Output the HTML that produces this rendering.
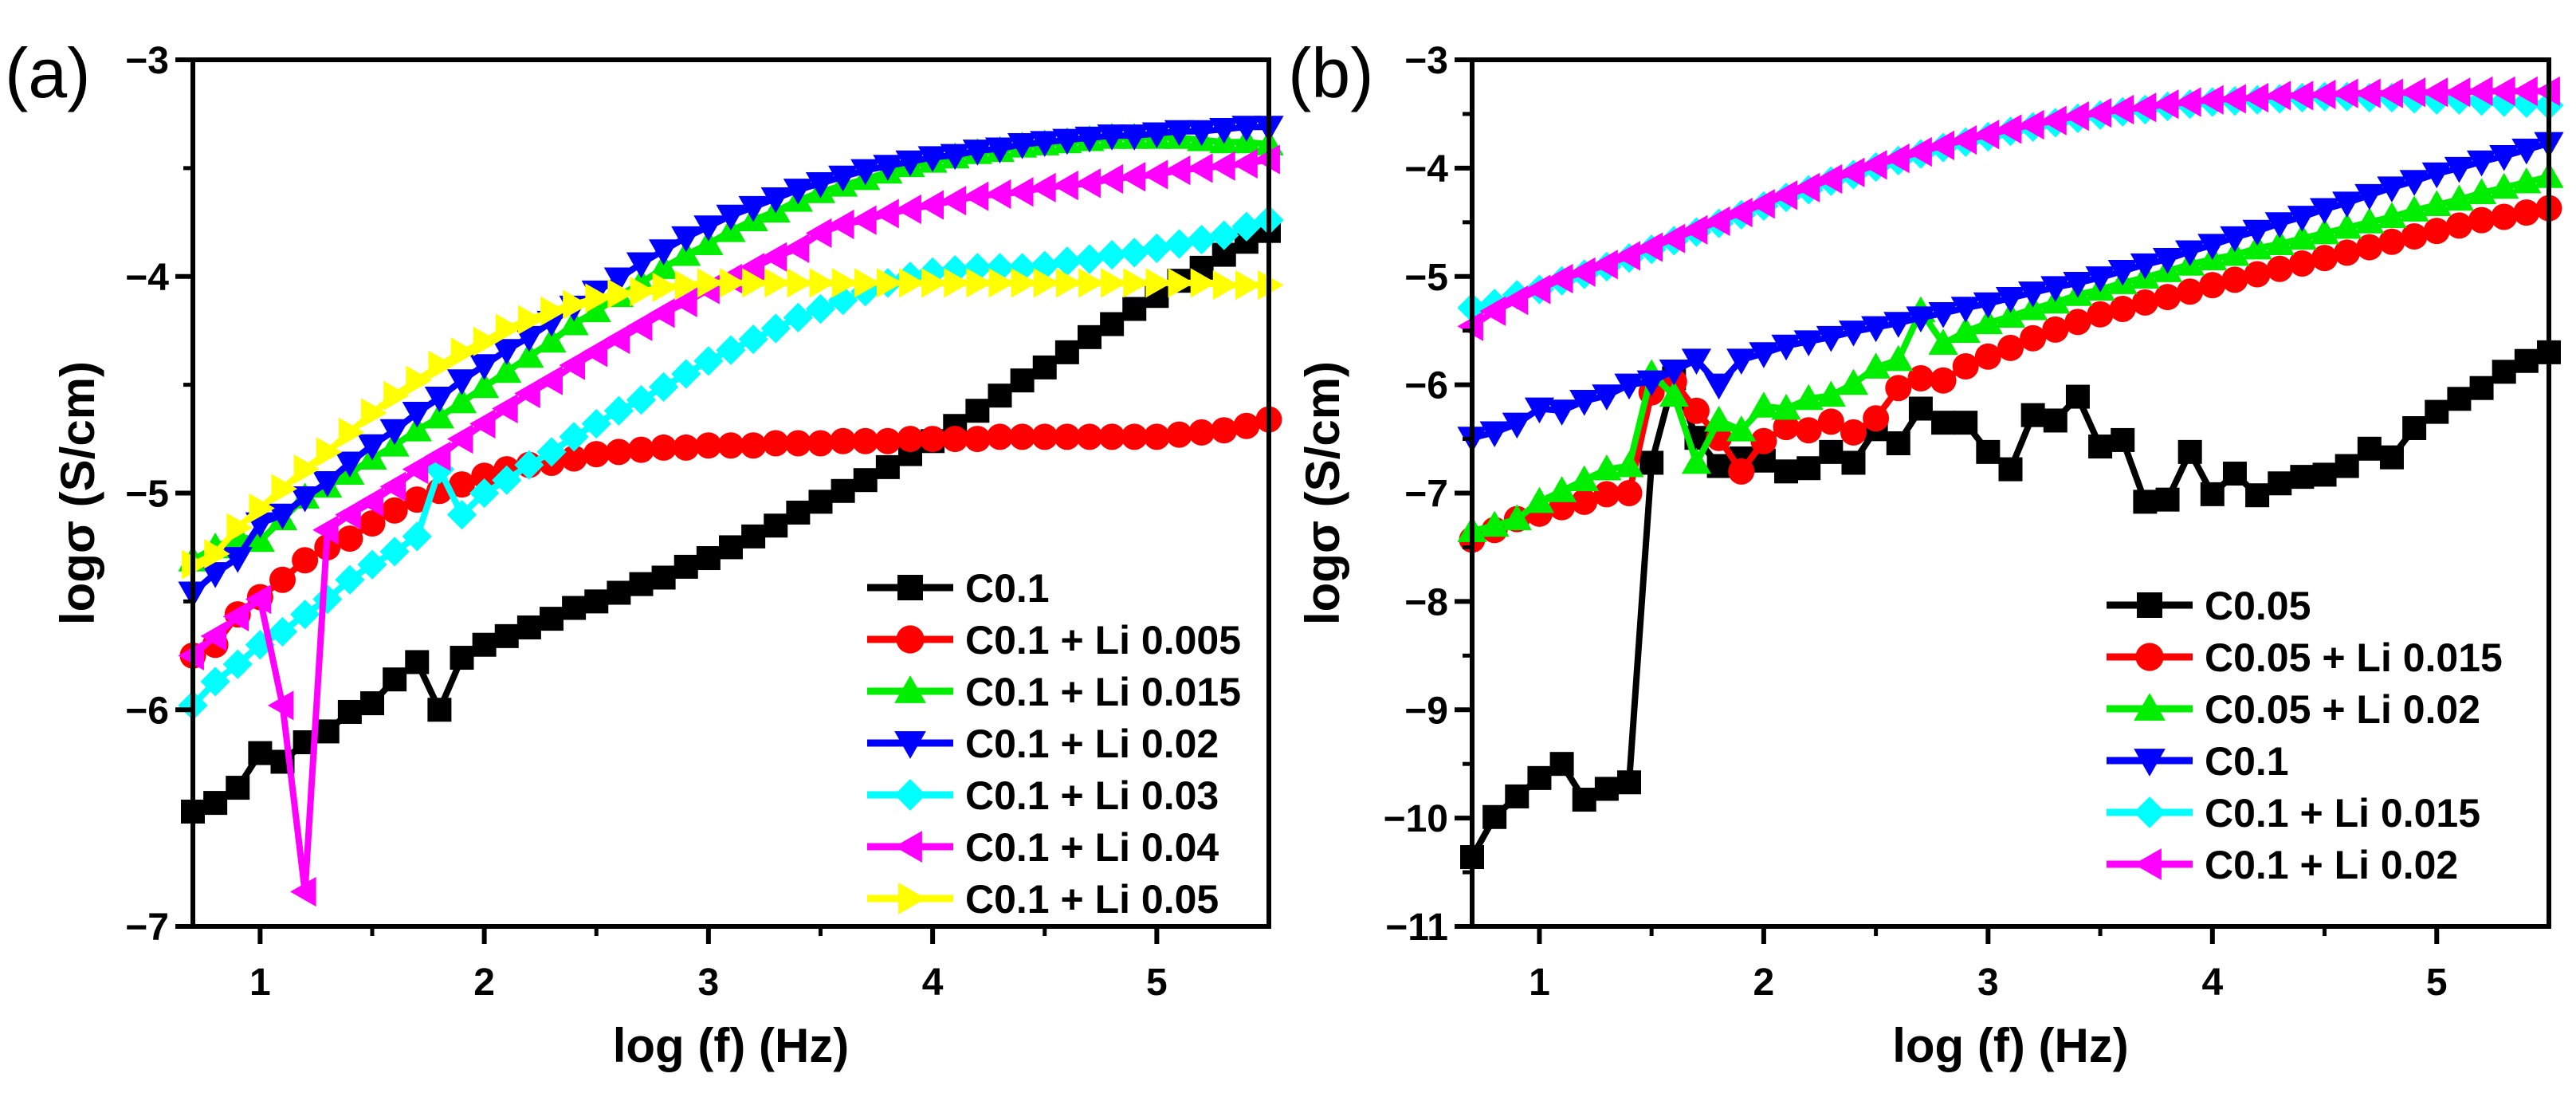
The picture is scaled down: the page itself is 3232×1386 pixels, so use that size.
<!DOCTYPE html>
<html><head><meta charset="utf-8"><style>
html,body{margin:0;padding:0;background:#fff;}
svg{display:block;font-family:"Liberation Sans",Arial,sans-serif;}
</style></head><body>
<svg id="fig" width="3232" height="1386" viewBox="0 0 3232 1386" xmlns="http://www.w3.org/2000/svg"></svg>
<script>
const logF = [0.7,0.8,0.9,1.0,1.1,1.2,1.3,1.4,1.5,1.6,1.7,1.8,1.9,2.0,2.1,2.2,2.3,2.4,2.5,2.6,2.7,2.8,2.9,3.0,3.1,3.2,3.3,3.4,3.5,3.6,3.7,3.8,3.9,4.0,4.1,4.2,4.3,4.4,4.5,4.6,4.7,4.8,4.9,5.0,5.1,5.2,5.3,5.4,5.5];
const xTicks = [1,2,3,4,5];
const yTicksA = [-3,-4,-5,-6,-7];
const yTicksB = [-3,-4,-5,-6,-7,-8,-9,-10,-11];

// panel (a)
const aC01 = [-6.47,-6.43,-6.36,-6.2,-6.24,-6.15,-6.1,-6.01,-5.97,-5.86,-5.78,-6.0,-5.76,-5.7,-5.66,-5.62,-5.58,-5.53,-5.5,-5.46,-5.42,-5.39,-5.34,-5.3,-5.25,-5.2,-5.15,-5.09,-5.04,-4.99,-4.94,-4.88,-4.82,-4.76,-4.69,-4.62,-4.55,-4.48,-4.42,-4.35,-4.28,-4.22,-4.15,-4.09,-4.02,-3.96,-3.9,-3.84,-3.79];
const aLi005 = [-5.75,-5.7,-5.56,-5.48,-5.4,-5.31,-5.25,-5.21,-5.14,-5.08,-5.03,-4.99,-4.96,-4.92,-4.89,-4.87,-4.86,-4.84,-4.82,-4.81,-4.8,-4.79,-4.79,-4.78,-4.78,-4.78,-4.77,-4.77,-4.77,-4.76,-4.76,-4.76,-4.75,-4.75,-4.75,-4.75,-4.74,-4.74,-4.74,-4.74,-4.74,-4.74,-4.74,-4.74,-4.73,-4.72,-4.71,-4.69,-4.66];
const aLi015 = [-5.31,-5.25,-5.2,-5.22,-5.12,-5.02,-4.97,-4.91,-4.84,-4.78,-4.71,-4.65,-4.58,-4.51,-4.44,-4.37,-4.3,-4.22,-4.16,-4.09,-4.03,-3.96,-3.9,-3.85,-3.79,-3.74,-3.7,-3.65,-3.61,-3.58,-3.55,-3.52,-3.49,-3.47,-3.45,-3.43,-3.42,-3.4,-3.39,-3.38,-3.37,-3.36,-3.36,-3.36,-3.36,-3.37,-3.38,-3.38,-3.39];
const aLi02 = [-5.46,-5.37,-5.3,-5.14,-5.1,-5.02,-4.95,-4.86,-4.78,-4.71,-4.63,-4.56,-4.48,-4.41,-4.34,-4.28,-4.21,-4.14,-4.07,-4.01,-3.94,-3.88,-3.82,-3.77,-3.72,-3.68,-3.64,-3.6,-3.57,-3.54,-3.51,-3.49,-3.47,-3.45,-3.44,-3.42,-3.41,-3.39,-3.38,-3.37,-3.36,-3.35,-3.35,-3.34,-3.33,-3.33,-3.32,-3.31,-3.31];
const aLi03 = [-5.98,-5.87,-5.79,-5.7,-5.64,-5.56,-5.49,-5.4,-5.33,-5.27,-5.2,-4.89,-5.1,-5.0,-4.94,-4.87,-4.81,-4.74,-4.68,-4.62,-4.57,-4.51,-4.45,-4.39,-4.34,-4.29,-4.24,-4.19,-4.15,-4.11,-4.07,-4.03,-4.0,-3.98,-3.97,-3.96,-3.96,-3.96,-3.95,-3.93,-3.92,-3.9,-3.89,-3.87,-3.85,-3.83,-3.81,-3.77,-3.74];
const aLi04 = [-5.75,-5.66,-5.57,-5.49,-5.98,-6.84,-5.17,-5.1,-5.04,-4.97,-4.89,-4.83,-4.75,-4.68,-4.61,-4.54,-4.48,-4.41,-4.35,-4.29,-4.23,-4.17,-4.12,-4.06,-4.01,-3.96,-3.91,-3.87,-3.8,-3.76,-3.74,-3.71,-3.69,-3.67,-3.65,-3.63,-3.62,-3.61,-3.59,-3.58,-3.57,-3.55,-3.54,-3.53,-3.51,-3.5,-3.49,-3.48,-3.46];
const aLi05 = [-5.33,-5.28,-5.16,-5.07,-4.98,-4.89,-4.81,-4.72,-4.63,-4.55,-4.48,-4.41,-4.35,-4.3,-4.24,-4.2,-4.16,-4.13,-4.1,-4.08,-4.07,-4.05,-4.04,-4.03,-4.03,-4.03,-4.03,-4.03,-4.03,-4.03,-4.03,-4.03,-4.03,-4.03,-4.03,-4.03,-4.03,-4.03,-4.03,-4.03,-4.03,-4.03,-4.03,-4.03,-4.03,-4.03,-4.04,-4.04,-4.04];

// panel (b)
const bC005 = [-10.36,-9.99,-9.8,-9.63,-9.5,-9.83,-9.73,-9.67,-6.72,-5.94,-6.49,-6.75,-6.68,-6.7,-6.8,-6.77,-6.62,-6.72,-6.41,-6.54,-6.22,-6.35,-6.35,-6.62,-6.78,-6.28,-6.33,-6.11,-6.57,-6.51,-7.08,-7.06,-6.62,-7.01,-6.82,-7.02,-6.91,-6.85,-6.83,-6.75,-6.59,-6.67,-6.4,-6.25,-6.13,-6.03,-5.88,-5.78,-5.7];
const bC005Li015 = [-7.43,-7.34,-7.24,-7.19,-7.13,-7.08,-7.01,-7.0,-6.07,-5.97,-6.24,-6.49,-6.8,-6.52,-6.39,-6.42,-6.34,-6.44,-6.31,-6.03,-5.94,-5.96,-5.83,-5.74,-5.66,-5.57,-5.49,-5.42,-5.35,-5.3,-5.24,-5.19,-5.14,-5.08,-5.03,-4.98,-4.93,-4.88,-4.83,-4.78,-4.73,-4.68,-4.63,-4.58,-4.53,-4.48,-4.45,-4.41,-4.37];
const bC005Li02 = [-7.35,-7.3,-7.24,-7.08,-6.98,-6.88,-6.78,-6.75,-5.9,-6.1,-6.72,-6.33,-6.42,-6.2,-6.22,-6.13,-6.1,-5.99,-5.84,-5.77,-5.32,-5.62,-5.51,-5.43,-5.37,-5.3,-5.24,-5.17,-5.12,-5.06,-5.01,-4.95,-4.89,-4.84,-4.8,-4.74,-4.7,-4.65,-4.6,-4.55,-4.5,-4.45,-4.39,-4.34,-4.29,-4.23,-4.18,-4.13,-4.08];
const bC01 = [-6.49,-6.44,-6.36,-6.22,-6.24,-6.15,-6.1,-6.0,-5.97,-5.87,-5.77,-6.0,-5.77,-5.71,-5.64,-5.6,-5.56,-5.51,-5.47,-5.43,-5.38,-5.34,-5.29,-5.25,-5.2,-5.15,-5.1,-5.06,-5.01,-4.95,-4.89,-4.84,-4.77,-4.71,-4.64,-4.58,-4.51,-4.45,-4.38,-4.32,-4.25,-4.18,-4.12,-4.05,-4.0,-3.94,-3.89,-3.83,-3.77];
const bC01Li015 = [-5.29,-5.25,-5.17,-5.12,-5.04,-4.98,-4.91,-4.83,-4.75,-4.67,-4.59,-4.51,-4.43,-4.35,-4.27,-4.2,-4.12,-4.06,-3.99,-3.93,-3.87,-3.81,-3.76,-3.71,-3.66,-3.62,-3.58,-3.54,-3.51,-3.48,-3.46,-3.43,-3.41,-3.39,-3.38,-3.37,-3.36,-3.35,-3.34,-3.34,-3.35,-3.35,-3.36,-3.37,-3.37,-3.38,-3.39,-3.4,-3.42];
const bC01Li02 = [-5.46,-5.32,-5.22,-5.12,-5.02,-4.96,-4.89,-4.81,-4.73,-4.65,-4.57,-4.49,-4.41,-4.33,-4.25,-4.18,-4.1,-4.04,-3.97,-3.91,-3.85,-3.79,-3.74,-3.69,-3.64,-3.6,-3.56,-3.52,-3.49,-3.46,-3.44,-3.41,-3.39,-3.37,-3.36,-3.35,-3.33,-3.33,-3.32,-3.31,-3.31,-3.31,-3.3,-3.3,-3.3,-3.29,-3.29,-3.29,-3.29];

const labelsA = ["C0.1","C0.1 + Li 0.005","C0.1 + Li 0.015","C0.1 + Li 0.02","C0.1 + Li 0.03","C0.1 + Li 0.04","C0.1 + Li 0.05"];
const labelsB = ["C0.05","C0.05 + Li 0.015","C0.05 + Li 0.02","C0.1","C0.1 + Li 0.015","C0.1 + Li 0.02"];

const NS = "http://www.w3.org/2000/svg";
const svg = document.getElementById('fig');
function el(tag, attrs, parent){
  const e = document.createElementNS(NS, tag);
  for (const k in attrs) e.setAttribute(k, attrs[k]);
  (parent||svg).appendChild(e);
  return e;
}
function marker(g, type, cx, cy, color, s){
  let m;
  if (type==='square') m = el('rect',{x:cx-s*0.5,y:cy-s*0.5,width:s,height:s,fill:color},g);
  else if (type==='circle') m = el('circle',{cx:cx,cy:cy,r:s*0.55,fill:color},g);
  else {
    let p;
    const r = s*0.62;
    if (type==='up') p=[[cx,cy-r],[cx+r,cy+r*0.75],[cx-r,cy+r*0.75]];
    else if (type==='down') p=[[cx,cy+r],[cx+r,cy-r*0.75],[cx-r,cy-r*0.75]];
    else if (type==='diamond') p=[[cx,cy-r],[cx+r,cy],[cx,cy+r],[cx-r,cy]];
    else if (type==='left') p=[[cx-r,cy],[cx+r*0.75,cy-r],[cx+r*0.75,cy+r]];
    else p=[[cx+r,cy],[cx-r*0.75,cy-r],[cx-r*0.75,cy+r]];
    m = el('polygon',{points:p.map(q=>q.join(',')).join(' '),fill:color},g);
  }
  
  
  return m;
}

function panel(cfg){
  const L=cfg.left, R=cfg.right, T=75, B=1162;
  const xs = v => L + (v-0.7)/(5.5-0.7)*(R-L);
  const ys = v => T + (cfg.ymax - v)/(cfg.ymax-cfg.ymin)*(B-T);
  const g = el('g',{});
  
  

  cfg.series.forEach((s,i)=>{
    const sg = el('g',{},g);
    
    
    const pts = logF.map((x,j)=>xs(x).toFixed(1)+','+ys(s.data[j]).toFixed(1)).join(' ');
    const pl = el('polyline',{points:pts,fill:'none',stroke:s.color,'stroke-width':8,'stroke-linejoin':'miter'},sg);
    
    
    logF.forEach((x,j)=>marker(sg, s.m, xs(x), ys(s.data[j]), s.color, 30));
  });

  const fr = el('rect',{x:L,y:T,width:R-L,height:B-T,fill:'none',stroke:'#000','stroke-width':6},g);
  
  

  xTicks.forEach(t=>{
    const x = xs(t);
    el('line',{x1:x,y1:B,x2:x,y2:B+22,stroke:'#000','stroke-width':6},g);
    const tx = el('text',{x:x,y:B+86,'text-anchor':'middle','font-size':48,'font-weight':'bold',fill:'#000'},g);
    tx.textContent = String(t);
    
    
  });
  for (let t=1.5; t<5.5; t+=1){
    const x = xs(t);
    el('line',{x1:x,y1:B,x2:x,y2:B+12,stroke:'#000','stroke-width':5},g);
  }
  cfg.yticks.forEach(t=>{
    const y = ys(t);
    el('line',{x1:L-22,y1:y,x2:L,y2:y,stroke:'#000','stroke-width':6},g);
    const tx = el('text',{x:L-30,y:y+17,'text-anchor':'end','font-size':48,'font-weight':'bold',fill:'#000'},g);
    tx.textContent = '\u2212'+String(-t);
    
    
  });
  for (let t=cfg.ymax-0.5; t>cfg.ymin; t-=1){
    const y = ys(t);
    el('line',{x1:L-12,y1:y,x2:L,y2:y,stroke:'#000','stroke-width':5},g);
  }
  const xt = el('text',{x:(L+R)/2,y:1332,'text-anchor':'middle','font-size':60,'font-weight':'bold',fill:'#000'},g);
  xt.textContent = 'log (f) (Hz)';
  
  
  const yx = cfg.ytitleX, yy = (T+B)/2;
  const yt = el('text',{x:yx,y:yy,'text-anchor':'middle','font-size':60,'font-weight':'bold',fill:'#000',transform:'rotate(-90 '+yx+' '+yy+')'},g);
  yt.textContent = 'logσ (S/cm)';
  
  
  const pl = el('text',{x:cfg.plX,y:122,'font-size':88,fill:'#000'},g);
  pl.textContent = cfg.panelLabel;
  
  

  const lg = el('g',{},g);
  
  
  cfg.series.forEach((s,i)=>{
    const y = cfg.legY + i*cfg.legDy;
    const eg = el('g',{},lg);
    
    
    el('line',{x1:cfg.legX,y1:y,x2:cfg.legX+108,y2:y,stroke:s.color,'stroke-width':9},eg);
    marker(eg, s.m, cfg.legX+54, y, s.color, 32);
    const t = el('text',{x:cfg.legX+123,y:y+18,'font-size':50,'font-weight':'bold',fill:'#000'},eg);
    t.textContent = cfg.labels[i];
  });
}

panel({name:'panel-a', left:242, right:1592, ymax:-3, ymin:-7, yticks:yTicksA, ytitleX:118, plX:6, panelLabel:'(a)',
  legX:1088, legY:737, legDy:65, labels:labelsA,
  series:[
    {key:'c01',data:aC01,color:'#000000',m:'square'},
    {key:'li005',data:aLi005,color:'#ff0000',m:'circle'},
    {key:'li015',data:aLi015,color:'#00ee00',m:'up'},
    {key:'li02',data:aLi02,color:'#0000ff',m:'down'},
    {key:'li03',data:aLi03,color:'#00ffff',m:'diamond'},
    {key:'li04',data:aLi04,color:'#ff00ff',m:'left'},
    {key:'li05',data:aLi05,color:'#ffff00',m:'right'}
  ]});
panel({name:'panel-b', left:1847, right:3198, ymax:-3, ymin:-11, yticks:yTicksB, ytitleX:1680, plX:1616, panelLabel:'(b)',
  legX:2643, legY:759, legDy:65, labels:labelsB,
  series:[
    {key:'c005',data:bC005,color:'#000000',m:'square'},
    {key:'c005-li015',data:bC005Li015,color:'#ff0000',m:'circle'},
    {key:'c005-li02',data:bC005Li02,color:'#00ee00',m:'up'},
    {key:'c01',data:bC01,color:'#0000ff',m:'down'},
    {key:'c01-li015',data:bC01Li015,color:'#00ffff',m:'diamond'},
    {key:'c01-li02',data:bC01Li02,color:'#ff00ff',m:'left'}
  ]});
</script>
</body></html>
